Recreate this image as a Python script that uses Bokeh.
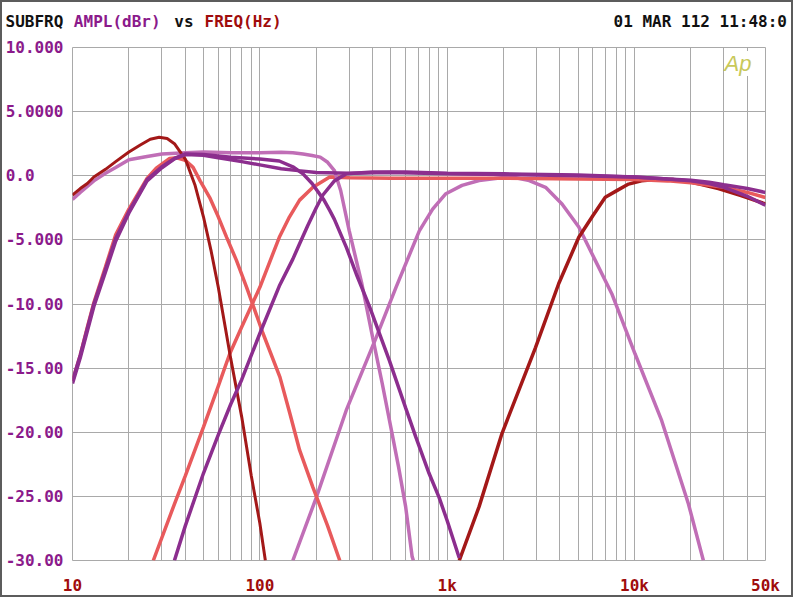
from bokeh.plotting import figure
from bokeh.models import FixedTicker, Label, Range1d
from bokeh.layouts import column
from bokeh.core.properties import value
from bokeh.embed import file_html
from bokeh.resources import INLINE

# ---------------- data ----------------
# dark red low-pass (sub)
sub_lp_f = [10, 11, 12, 13, 15, 17, 20, 23, 26, 29, 32, 35, 37, 40, 45, 50, 55, 60, 70, 80, 90, 100, 107]
sub_lp_db = [-1.5, -1.0, -0.6, -0.1, 0.5, 1.1, 1.85, 2.4, 2.85, 3.0, 2.9, 2.5, 2.0, 1.3, -0.7, -3.2, -5.9, -8.7, -14.3, -18.8, -23.4, -27.1, -30]

# light purple low-pass
lp2_f = [10, 11, 13, 15, 17, 20, 25, 30, 40, 50, 70, 100, 130, 150, 170, 190, 210, 230, 250, 270, 300, 350, 400, 450, 500, 550, 600, 650, 660]
lp2_db = [-1.85, -1.3, -0.4, 0.2, 0.65, 1.25, 1.5, 1.7, 1.8, 1.85, 1.8, 1.8, 1.84, 1.8, 1.7, 1.58, 1.45, 1.05, 0.4, -1.15, -4.3, -8.4, -12.6, -16.2, -19.6, -22.7, -25.8, -29.7, -30]

# dark purple full range with subsonic filter
full_f = [10, 11, 12, 13, 15, 17, 20, 25, 30, 35, 40, 50, 60, 70, 80, 100, 130, 160, 200, 300, 500, 1000, 2000, 5000, 10000, 15000, 20000, 25000, 30000, 40000, 50000]
full_db = [-16.2, -14.2, -12.1, -10.2, -7.5, -5.1, -2.9, -0.4, 0.62, 1.32, 1.65, 1.6, 1.4, 1.25, 1.1, 0.85, 0.55, 0.4, 0.25, 0.2, 0.25, 0.15, 0.1, 0.0, -0.1, -0.25, -0.35, -0.5, -0.7, -1.0, -1.3]

# dark purple low-pass ~250 Hz
lp3_f = [10, 11, 12, 13, 15, 17, 20, 25, 30, 35, 40, 50, 70, 100, 127, 150, 170, 190, 220, 236, 250, 290, 330, 385, 440, 491, 600, 681, 800, 906, 1000, 1160]
lp3_db = [-16.0, -14.0, -11.9, -10.0, -7.3, -4.9, -2.8, -0.3, 0.7, 1.35, 1.7, 1.65, 1.45, 1.3, 1.15, 0.7, 0.15, -0.6, -1.9, -2.7, -3.4, -5.6, -7.8, -10.2, -12.5, -14.4, -18.1, -20.4, -23.2, -25.1, -26.9, -29.8]

# salmon band (subsonic + low-pass ~60 Hz)
bp1_f = [10, 11, 12, 13, 15, 17, 20, 25, 28, 33, 36, 40, 44, 48, 54, 60, 66.5, 75, 85, 104, 128, 145, 163, 192, 230, 267]
bp1_db = [-16.0, -14.0, -11.8, -9.9, -7.1, -4.6, -2.6, -0.2, 0.6, 1.35, 1.4, 1.2, 0.65, -0.4, -1.7, -3.2, -4.8, -6.6, -8.7, -12.3, -15.7, -18.6, -21.4, -24.3, -27.3, -30]

# salmon high-pass ~150 Hz
hp1_f = [27, 35, 40, 50, 60, 69, 80, 100, 127, 144, 163, 192, 236, 300, 500, 1000, 2000, 5000, 10000, 15000, 20000, 30000, 40000, 50000]
hp1_db = [-30, -25.6, -23.4, -19.6, -16.4, -13.9, -11.8, -8.7, -4.8, -3.2, -1.9, -0.9, -0.1, -0.15, -0.2, -0.2, -0.2, -0.25, -0.3, -0.4, -0.55, -0.9, -1.3, -1.7]

# dark purple high-pass ~200 Hz
hp2_f = [35, 40, 50, 60, 70, 80, 100, 127, 150, 163, 180, 200, 217, 250, 290, 400, 600, 1000, 2000, 5000, 10000, 15000, 20000, 25000, 30000, 40000, 50000]
hp2_db = [-30, -27.3, -23.2, -20.2, -17.8, -15.9, -12.3, -8.6, -6.5, -5.3, -3.9, -2.5, -1.5, -0.4, 0.15, 0.3, 0.3, 0.2, 0.15, 0.05, -0.1, -0.25, -0.4, -0.6, -0.9, -1.6, -2.3]

# light purple band-pass 1k..4k
bp2_f = [150, 200, 289, 418, 533, 710, 836, 984, 1200, 1480, 2000, 2220, 2700, 3350, 4100, 5040, 6170, 7560, 10070, 13960, 19400, 23300]
bp2_db = [-30, -25.1, -18.3, -12.6, -8.7, -4.3, -2.6, -1.4, -0.75, -0.37, -0.13, -0.1, -0.35, -0.9, -2.2, -4.0, -6.6, -9.2, -13.9, -19.1, -25.6, -30]

# dark red high-pass ~5 kHz
hp3_f = [1160, 1480, 1960, 2960, 3940, 5040, 6000, 6980, 8000, 9290, 10900, 13000, 16000, 20000, 28000, 37000, 50000]
hp3_db = [-30, -25.8, -20.1, -13.4, -8.4, -4.8, -3.1, -1.67, -1.18, -0.65, -0.39, -0.3, -0.3, -0.5, -1.0, -1.55, -2.2]

x_ticks = [10, 20, 30, 40, 50, 60, 70, 80, 90,
           100, 200, 300, 400, 500, 600, 700, 800, 900,
           1000, 2000, 3000, 4000, 5000, 6000, 7000, 8000, 9000,
           10000, 20000, 30000, 40000, 50000]
x_labels = {10: "10", 100: "100", 1000: "1k", 10000: "10k", 50000: "50k"}
y_ticks = [10, 5, 0, -5, -10, -15, -20, -25, -30]
y_labels = ["10.000", "5.0000", "0.0\u00a0\u00a0\u00a0", "-5.000", "-10.00", "-15.00", "-20.00", "-25.00", "-30.00"]

# header texts
header_texts = ["SUBFRQ", "AMPL(dBr)", "vs", "FREQ(Hz)", "01 MAR 112 11:48:0"]

# ---------------- styling ----------------
DARK_RED = "#a31818"
SALMON = "#e85a5c"
PURPLE = "#8c2e8e"
LIGHT_PURPLE = "#c06eb6"
LABEL_PURPLE = "#8b1a8b"
LABEL_RED = "#a00c0c"
GRID = "#a9a9a9"
BORDER = "2px solid #5c5c5c"
FONT = "DejaVu Sans Mono"
W = 793

# ---------------- header strip ----------------
head = figure(width=W, height=37, x_range=Range1d(0, W - 4), y_range=Range1d(35, 0),
              output_backend="svg", toolbar_location=None, min_border=0,
              outline_line_color=None, background_fill_color="white",
              border_fill_color="white")
head.frame_align = False
head.axis.visible = False
head.grid.visible = False
head.styles = {"border-top": BORDER, "border-left": BORDER, "border-right": BORDER}
head.text(x=[3, 71, 171, 201, 608], y=[18] * 5, text=header_texts,
          text_color=["#111111", LABEL_PURPLE, "#111111", LABEL_RED, "#111111"],
          text_font=value(FONT), text_font_style="bold", text_font_size="16px",
          text_baseline="alphabetic", text_align="left")

# ---------------- main plot ----------------
p = figure(width=W, height=560, x_axis_type="log",
           x_range=(10, 50000), y_range=(-30, 10),
           output_backend="svg", toolbar_location=None,
           min_border_left=70, min_border_right=30,
           min_border_top=10, min_border_bottom=35,
           background_fill_color="white", border_fill_color="white",
           outline_line_color=GRID)
p.frame_align = False
p.styles = {"border-bottom": BORDER, "border-left": BORDER, "border-right": BORDER}

p.xaxis.ticker = FixedTicker(ticks=x_ticks)
p.xaxis.major_label_overrides = {t: x_labels.get(t, "") for t in x_ticks}
p.yaxis.ticker = FixedTicker(ticks=y_ticks)
p.yaxis.major_label_overrides = dict(zip(y_ticks, y_labels))

for ax, col in ((p.xaxis, LABEL_RED), (p.yaxis, LABEL_PURPLE)):
    ax.axis_line_color = None
    ax.major_tick_line_color = None
    ax.minor_tick_line_color = None
    ax.major_tick_out = 0
    ax.major_tick_in = 0
    ax.minor_tick_out = 0
    ax.minor_tick_in = 0
    ax.major_label_text_font = FONT
    ax.major_label_text_font_style = "bold"
    ax.major_label_text_font_size = "16px"
    ax.major_label_text_color = col
p.xaxis.major_label_standoff = 15
p.yaxis.major_label_standoff = 9

p.xgrid.ticker = FixedTicker(ticks=x_ticks)
p.ygrid.ticker = FixedTicker(ticks=y_ticks)
for g in (p.xgrid, p.ygrid):
    g.grid_line_color = GRID
    g.grid_line_width = 1

# ---------------- curves ----------------
p.line(bp2_f, bp2_db, line_color=LIGHT_PURPLE, line_width=3.5)
p.line(hp3_f, hp3_db, line_color=DARK_RED, line_width=3.5)
p.line(hp1_f, hp1_db, line_color=SALMON, line_width=3.5)
p.line(bp1_f, bp1_db, line_color=SALMON, line_width=3.5)
p.line(lp2_f, lp2_db, line_color=LIGHT_PURPLE, line_width=3.5)
p.line(sub_lp_f, sub_lp_db, line_color=DARK_RED, line_width=3)
p.line(hp2_f, hp2_db, line_color=PURPLE, line_width=3.5)
p.line(lp3_f, lp3_db, line_color=PURPLE, line_width=3.5)
p.line(full_f, full_db, line_color=PURPLE, line_width=3.5)

# Ap logo
p.add_layout(Label(x=652, y=497, x_units="screen", y_units="screen", text="Ap",
                   text_color="#c8c85a", text_font="Liberation Sans",
                   text_font_size="22px", text_font_style="italic",
                   text_baseline="alphabetic", background_fill_color="white"))

layout = column(head, p, spacing=0)
open("out.html", "w").write(file_html(layout, INLINE))
